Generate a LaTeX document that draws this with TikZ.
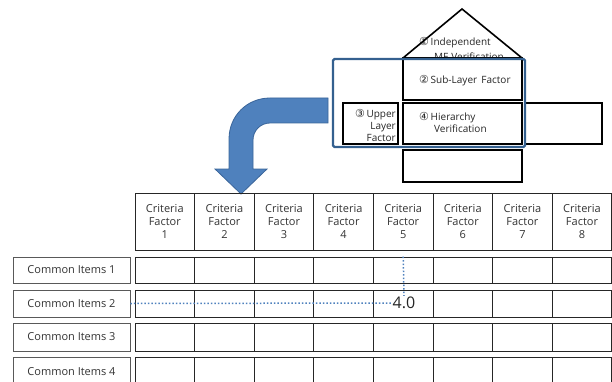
\documentclass[tikz,border=0pt]{standalone}
\usepackage{fontspec}
\setmainfont{Open Sans}
\newfontfamily\circfont{DejaVu Sans}
\newcommand{\cnum}[1]{{\circfont\fontsize{11}{12}\selectfont #1}}
\definecolor{arrowblue}{HTML}{4F81BD}
\definecolor{arrowedge}{HTML}{3A659A}
\definecolor{frameblue}{HTML}{34608F}
\definecolor{dotblue}{HTML}{4F81BD}

\begin{document}
\begin{tikzpicture}[x=1pt,y=-1pt,
  cell/.style={draw=black!85,line width=0.8pt,minimum width=59.6pt,inner sep=0pt,
    align=center,font=\fontsize{11}{13.2}\selectfont,text=black!80},
  itembox/.style={draw=black!65,line width=0.8pt,minimum width=117pt,inner sep=0pt,
    font=\fontsize{11}{13}\selectfont,text=black!80},
  housebox/.style={draw=black,line width=1.6pt,fill=white},
  housetext/.style={inner sep=0pt,font=\fontsize{10}{12}\selectfont,text=black!85},
  dotline/.style={draw=dotblue,line width=1.5pt,dotted}]

\useasboundingbox (0,0) rectangle (612,382);

% ---- house of factors ----
\node[housetext,anchor=base west] (t1a) at (419,46) {\cnum{①}\,Independent};
\node[housetext,anchor=base west] (t1b) at (434,61) {ME Verification};
\draw[housebox,fill=none] (403,58) -- (462,9) -- (522,58);
\draw[housebox] (403,58) rectangle (522,100);
\draw[housebox] (403,103) rectangle (522,144);
\draw[housebox] (343,103) rectangle (398,144);
\draw[housebox] (525,103) rectangle (602,144);
\draw[housebox] (403,150) rectangle (522,182);
\node[housetext,anchor=base west] (t2) at (419,84) {\cnum{②}\,Sub-Layer\, Factor};
\node[housetext,anchor=base west] (t4a) at (419,120.5) {\cnum{④}\,Hierarchy};
\node[housetext,anchor=base west] (t4b) at (434,132.5) {Verification};
\node[housetext,anchor=east,align=right] (t3) at (396,125.5) {\cnum{③}\,Upper\\Layer\\Factor};
\draw[draw=frameblue,line width=2.2pt,rounded corners=1.5pt] (333,59) rectangle (525,147);

% ---- bent block arrow ----
\filldraw[fill=arrowblue,draw=arrowedge,line width=0.8pt]
  (328,98) -- (270,98)
  .. controls (247,98) and (229,116) .. (229,139)
  -- (229,169) -- (215,169) -- (241,194) -- (267,169) -- (253,169)
  -- (253,140)
  .. controls (253,130.6) and (260.6,123) .. (270,123)
  -- (328,123) -- cycle;

% ---- criteria table ----
\foreach \i in {1,...,8}
  \node[cell,minimum height=57pt] (h\i) at ({135+(\i-0.5)*59.6},221.5) {Criteria\\Factor\\\i};

\foreach \r/\yc/\h in {1/270/26,2/303.5/27,3/337/28,4/371.5/29}{
  \node[itembox,minimum height=\h pt] (ci\r) at (71.5,\yc) {Common Items \r};
  \foreach \i in {1,...,8}
    \node[cell,minimum height=\h pt] (c\r-\i) at ({135+(\i-0.5)*59.6},\yc) {};
}

% ---- score lookup ----
\node[inner sep=1pt,font=\fontsize{16}{18}\selectfont,text=black!85] (val) at (404,303) {4.0};
\draw[dotline] (ci2.east) -- (val.west);
\draw[dotline] (c1-5.north) -- (val.north);

\end{tikzpicture}
\end{document}
